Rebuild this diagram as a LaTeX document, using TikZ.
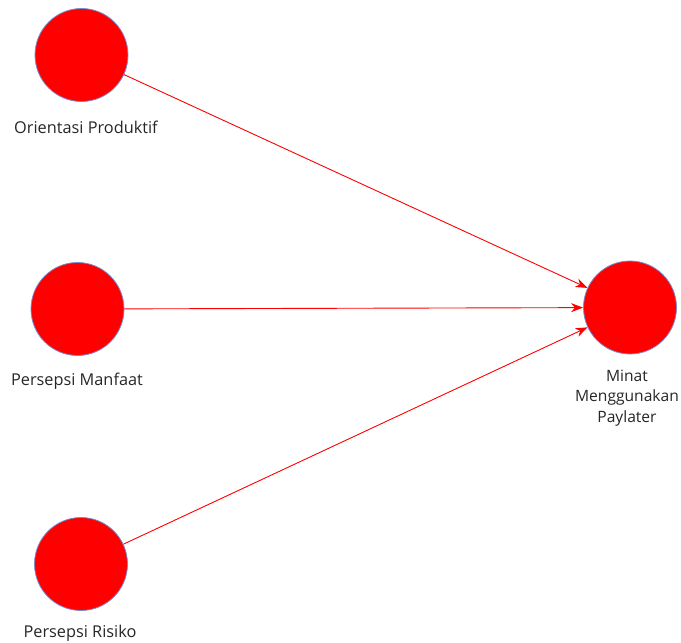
\documentclass[tikz,border=0pt]{standalone}
\usepackage{fontspec}
\setmainfont{Open Sans}
\usetikzlibrary{arrows.meta}
\definecolor{lvred}{RGB}{255,0,0}
\definecolor{lvedge}{RGB}{120,140,210}
\begin{document}
\begin{tikzpicture}[x=1pt,y=-1pt,
  lv/.style={circle,fill=lvred,draw=lvedge,line width=0.8pt,minimum size=93pt,inner sep=0pt},
  lbl/.style={font=\fontsize{16.3}{20.5}\selectfont,text=black!85,align=center,inner sep=0pt},
  path/.style={draw=lvred,line width=0.9pt,-{Stealth[length=12pt,width=9pt]}}]
\useasboundingbox (0,0) rectangle (681,643);
\node[lv] (op) at (81.5,55) {};
\node[lv] (pm) at (77.5,309) {};
\node[lv] (pr) at (81,564) {};
\node[lv] (mp) at (630,307.5) {};
\node[lbl] (lop) at (86,127) {Orientasi Produktif};
\node[lbl] (lpm) at (77,381) {Persepsi Manfaat};
\node[lbl] (lpr) at (80,633) {Persepsi Risiko};
\node[lbl,font=\fontsize{15.6}{20.5}\selectfont] (lmp) at (627,398) {Minat\\Menggunakan\\Paylater};
\draw[path] (op) -- (mp);
\draw[path] (pm) -- (mp);
\draw[path] (pr) -- (mp);
\end{tikzpicture}
\end{document}
